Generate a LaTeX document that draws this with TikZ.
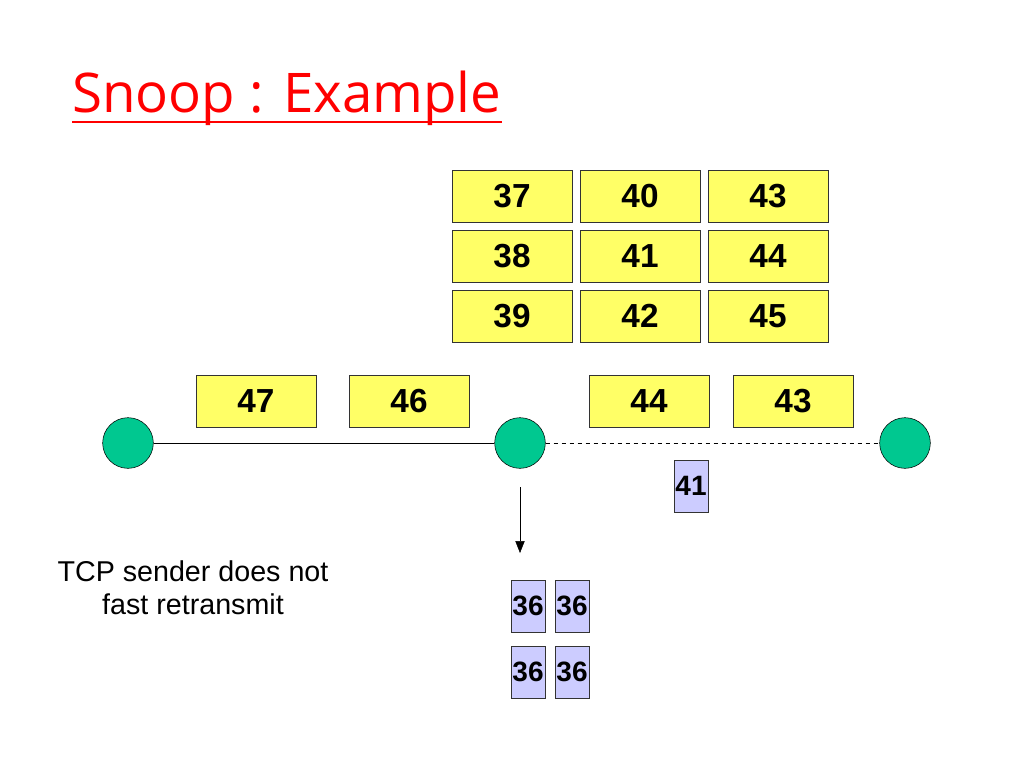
\documentclass[tikz,border=0pt]{standalone}
\usepackage{fontspec}
\setmainfont{Liberation Sans}
\newfontfamily\titlefont{Open Sans}
\usepackage{tikz}
\usetikzlibrary{positioning,arrows.meta}
\definecolor{pktyellow}{HTML}{FFFF66}
\definecolor{acklilac}{HTML}{CCCCFF}
\definecolor{nodegreen}{HTML}{00C890}

\begin{document}
\begin{tikzpicture}[x=0.75pt,y=-0.75pt]
	\useasboundingbox[fill=white] (0,0) rectangle (1024,768);
	% title
	\node[anchor=base west,text=red,font=\titlefont\fontsize{41}{46}\selectfont,inner sep=0pt] (title) at (72,112) {Snoop : Example};
	\draw[red,line width=1.8pt] ([yshift=-7.5pt]title.base west) -- ([yshift=-7.5pt]title.base east);
	% buffer at the base station
	\begin{scope}[every node/.style={rectangle,draw=black!80,fill=pktyellow,minimum width=90pt,minimum height=39pt,inner sep=0pt,font=\bfseries\fontsize{25}{28}\selectfont}]
		\node (B37) at (512,196) {37};
		\node (B38) at (512,256) {38};
		\node (B39) at (512,316) {39};
		\node (B40) at (640,196) {40};
		\node (B41) at (640,256) {41};
		\node (B42) at (640,316) {42};
		\node (B43) at (768,196) {43};
		\node (B44) at (768,256) {44};
		\node (B45) at (768,316) {45};
		\node (P47) at (256,401) {47};
		\node (P46) at (409,401) {46};
		\node (P44) at (649,401) {44};
		\node (P43) at (793,401) {43};
	\end{scope}
	\begin{scope}[every node/.style={circle,draw=black,fill=nodegreen,minimum size=38pt,inner sep=0pt}]
		\node (S) at (128,443) {};
		\node (BS) at (520,443) {};
		\node (MH) at (905,443) {};
	\end{scope}
	\begin{scope}[every node/.style={rectangle,draw=black!80,fill=acklilac,minimum width=25.5pt,minimum height=39pt,inner sep=0pt,font=\bfseries\fontsize{21}{24}\selectfont}]
		\node (A41) at (691,486) {41};
		\node (D1) at (528,606) {36};
		\node (D2) at (572,606) {36};
		\node (D3) at (528,672) {36};
		\node (D4) at (572,672) {36};
	\end{scope}
	\coordinate (arrtop) at (520,487);
	\coordinate (arrend) at (520,553);
	\begin{scope}[every edge/.style={draw=black,thin}]
		\path (S) edge (BS);
		\path (BS) edge[dashed] (MH);
		\path [-{Triangle[length=9pt,width=7pt]}] (arrtop) edge (arrend);
	\end{scope}
	\node[align=center,font=\fontsize{21.5}{25}\selectfont] (note) at (193,588) {TCP sender does not\\fast retransmit};
\end{tikzpicture}
\end{document}
